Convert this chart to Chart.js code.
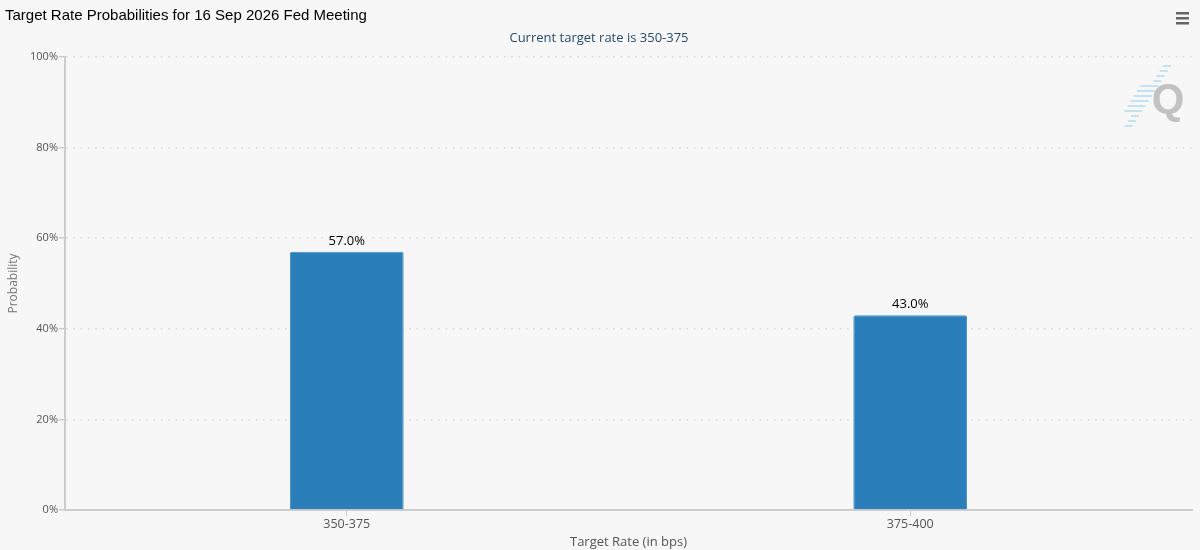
<!DOCTYPE html>
<html>
<head>
<meta charset="utf-8">
<script src="https://cdn.jsdelivr.net/npm/chart.js@4/dist/chart.umd.min.js"></script>
<style>
html,body{margin:0;padding:0;background:#f7f7f7;}
#wrap{width:1200px;height:550px;position:relative;}
</style>
</head>
<body>
<div id="wrap"><canvas id="c" width="1200" height="550"></canvas></div>
<script>
const titleText = "Target Rate Probabilities for 16 Sep 2026 Fed Meeting";
const subtitleText = "Current target rate is 350-375";
const categories = ["350-375", "375-400"];
const probabilities = [57.0, 43.0];
const yTicks = [0, 20, 40, 60, 80, 100];

const decor = {
  id: 'decor',
  beforeDraw(chart) {
    const ctx = chart.ctx;
    ctx.save();
    ctx.fillStyle = '#f7f7f7';
    ctx.fillRect(0, 0, chart.width, chart.height);
    ctx.restore();
  },
  afterDraw(chart) {
    const ctx = chart.ctx;
    ctx.save();
    // title
    ctx.fillStyle = '#000';
    ctx.font = '15px "Liberation Sans", Arial, sans-serif';
    ctx.textBaseline = 'middle';
    ctx.textAlign = 'left';
    ctx.fillText(titleText, 5, 16);
    // subtitle
    ctx.fillStyle = '#274b6d';
    ctx.font = '13px "Open Sans", sans-serif';
    ctx.textAlign = 'center';
    ctx.fillText(subtitleText, 599, 38);
    // hamburger
    ctx.fillStyle = '#666';
    for (let i = 0; i < 3; i++) {
      ctx.fillRect(1176, 12 + i * 5, 13, 2.5);
    }
    // watermark
    ctx.strokeStyle = 'rgba(150,205,238,0.7)';
    ctx.lineWidth = 1.5;
    for (let i = 0; i < 13; i++) {
      const y = 66 + i * 5;
      const x0 = 1171 - i * 3.2;
      const len = (i > 3 && i < 10) ? 18 : 8;
      ctx.beginPath();
      ctx.moveTo(x0 - len, y);
      ctx.lineTo(x0, y);
      ctx.stroke();
    }
    ctx.fillStyle = '#c2c2c2';
    ctx.font = 'bold 42px "Liberation Sans", Arial, sans-serif';
    ctx.textAlign = 'center';
    ctx.textBaseline = 'middle';
    ctx.fillText('Q', 1168, 101);
    // data labels
    const meta = chart.getDatasetMeta(0);
    ctx.fillStyle = '#000';
    ctx.font = '13px "Open Sans", sans-serif';
    ctx.textAlign = 'center';
    ctx.textBaseline = 'bottom';
    meta.data.forEach((bar, i) => {
      ctx.fillText(probabilities[i].toFixed(1) + '%', bar.x, bar.y - 4);
    });
    ctx.restore();
  }
};

new Chart(document.getElementById('c'), {
  type: 'bar',
  data: {
    labels: categories,
    datasets: [{
      data: probabilities,
      backgroundColor: '#2a7fba',
      borderColor: '#3f8dc4',
      borderWidth: 1,
      borderRadius: 2,
      borderSkipped: 'bottom',
      categoryPercentage: 1,
      barPercentage: 0.202
    }]
  },
  options: {
    responsive: false,
    animation: false,
    devicePixelRatio: 1,
    layout: { padding: { top: 57, right: 8, left: 6, bottom: 0 } },
    plugins: {
      legend: { display: false },
      tooltip: { enabled: false },
      title: { display: false }
    },
    scales: {
      x: {
        grid: {
          display: true,
          offset: false,
          color: 'rgba(0,0,0,0)',
          tickColor: '#ccc',
          tickLength: 6,
          drawOnChartArea: false
        },
        border: { display: true, color: '#ccc', width: 2 },
        ticks: {
          color: '#555',
          font: { family: '"Open Sans", sans-serif', size: 12.5 },
          padding: 1
        },
        title: {
          display: true,
          text: 'Target Rate (in bps)',
          color: '#555',
          font: { family: '"Open Sans", sans-serif', size: 13 },
          padding: { top: 1, bottom: 0 }
        },
        afterFit(scale) { scale.height = 40; }
      },
      y: {
        min: 0,
        max: 100,
        afterBuildTicks(scale) { scale.ticks = yTicks.map(v => ({ value: v })); },
        grid: {
          color: (c) => c.tick && c.tick.value === 0 ? 'rgba(0,0,0,0)' : '#d6d6d6',
          tickBorderDash: [],
          tickColor: '#ccc',
          tickLength: 6,
          lineWidth: 1.5
        },
        border: { display: true, color: '#ccc', width: 2, dash: [1.5, 5.8] },
        ticks: {
          color: '#555',
          font: { family: '"Open Sans", sans-serif', size: 11 },
          padding: 1,
          callback: (v) => v + '%'
        },
        title: {
          display: true,
          text: 'Probability',
          color: '#777',
          font: { family: '"Open Sans", sans-serif', size: 12 },
          padding: { top: 0, bottom: 6 }
        },
        afterFit(scale) { scale.width = 59; }
      }
    }
  },
  plugins: [decor]
});
</script>
</body>
</html>
